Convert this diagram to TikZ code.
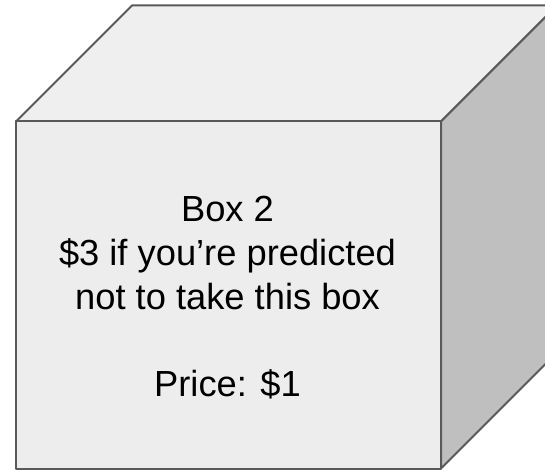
\documentclass[tikz,border=0pt]{standalone}
\usepackage{fontspec}
\setmainfont{Liberation Sans}
\definecolor{edgegray}{HTML}{595959}
\definecolor{topface}{HTML}{EFEFEF}
\definecolor{frontface}{HTML}{EDEDED}
\definecolor{sideface}{HTML}{BFBFBF}
\begin{document}
\begin{tikzpicture}[x=1pt,y=-1pt,
  face/.style={draw=edgegray, line width=2pt, line join=round},
  lbl/.style={anchor=base, inner sep=0pt, font=\fontsize{36.3}{43.6}\selectfont}]
\useasboundingbox (0,0) rectangle (545,470);
\clip (0,0) rectangle (545,470);
% cube corners
\coordinate (ftl) at (16,121.5);
\coordinate (ftr) at (441,121.5);
\coordinate (fbl) at (16,468.5);
\coordinate (fbr) at (441,468.5);
\coordinate (btl) at (132,5.5);
\coordinate (btr) at (557,5.5);
\coordinate (bbr) at (557,352.5);
% faces
\path[face, fill=topface] (ftl) -- (btl) -- (btr) -- (ftr) -- cycle;
\path[face, fill=sideface] (ftr) -- (btr) -- (bbr) -- (fbr) -- cycle;
\path[face, fill=frontface] (ftl) -- (ftr) -- (fbr) -- (fbl) -- cycle;
% text
\node[lbl] (l1) at (227.5,222) {Box 2};
\node[lbl] (l2) at (227.5,265.5) {\$3 if you’re predicted};
\node[lbl] (l3) at (227.5,309) {not to take this box};
\node[lbl] (l4) at (227.5,396.5) {Price: \$1};
\end{tikzpicture}
\end{document}
